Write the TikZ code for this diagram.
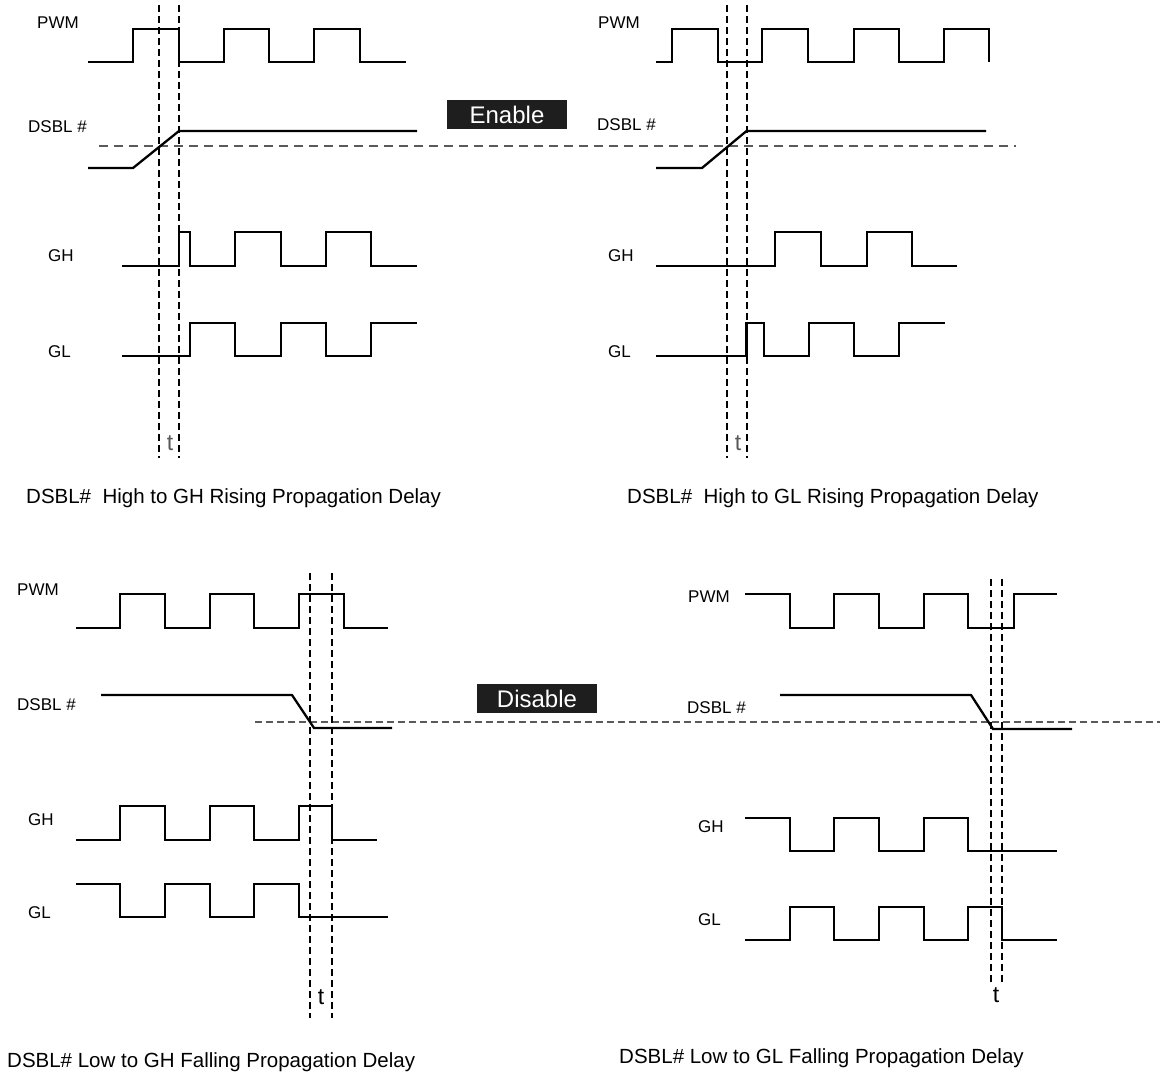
\documentclass[tikz,border=0pt]{standalone}
\usepackage{fontspec}
\setmainfont{Liberation Sans}
\definecolor{boxfill}{HTML}{1E1E1E}
\definecolor{lvlgray}{HTML}{5A5A5A}
\begin{document}
\begin{tikzpicture}[x=1pt,y=-1pt]
\tikzstyle{wave}=[line width=2.3pt]
\tikzstyle{tline}=[line width=2pt, dash pattern=on 7pt off 4pt]
\tikzstyle{thresh}=[line width=2.2pt, draw=lvlgray, dash pattern=on 9pt off 6pt]
\tikzstyle{sig}=[anchor=west, inner sep=0, font=\fontsize{17}{20}\selectfont]
\tikzstyle{title}=[anchor=base west, inner sep=0, font=\fontsize{20.5}{24}\selectfont]
\tikzstyle{tlabel}=[anchor=base, inner sep=0, font=\fontsize{23}{26}\selectfont]
\tikzstyle{statebox}=[fill=boxfill, text=white, minimum width=120pt, minimum height=29pt, inner sep=0, font=\fontsize{24}{28}\selectfont]
\useasboundingbox (0,0) rectangle (1160,1079);

%% threshold levels
\draw [thresh] (99,146)--(1016,146);
\draw [thresh, line width=1.8pt, dash pattern=on 7.3pt off 3.7pt] (254.5,722)--(1160,722);
\node [statebox] (enable) at (507,114.5) {Enable};
\node [statebox] (disable) at (537,698.5) {Disable};

%% delay markers
\foreach \x/\ya/\yb in {159/5/458, 179/5/458, 727/5/458, 746.5/5/458,
                        310/573/1018, 332/573/1018, 991/579/983, 1002/579/983} {
\draw [tline] (\x,\ya)--(\x,\yb);
}

%% top left: high to GH
\node [sig] (pwm1) at (37,23) {PWM};
\node [sig] (dsbl1) at (28,127) {DSBL \#};
\node [sig] (gh1) at (48,256) {GH};
\node [sig] (gl1) at (48,352) {GL};
\draw [wave] (88,62) -| (133,29) -| (179,62) -| (224,29) -| (269,62) -| (314,29) -| (360,62) -- (406,62);
\draw [wave] (88,168) -- (133,168) -- (179,131) -- (417,131);
\draw [wave] (122,266) -| (179,232) -| (190,266) -| (235,232) -| (281,266) -| (326,232) -| (371,266) -- (417,266);
\draw [wave] (122,356) -| (190,323) -| (235,356) -| (281,323) -| (326,356) -| (371,323) -- (417,323);
\node [tlabel, text=lvlgray] (t1) at (170,450) {t};
\node [title] (cap1) at (26,503) {DSBL\#\ \ High to GH Rising Propagation Delay};

%% top right: high to GL
\node [sig] (pwm2) at (598,23) {PWM};
\node [sig] (dsbl2) at (597,125) {DSBL \#};
\node [sig] (gh2) at (608,256) {GH};
\node [sig] (gl2) at (608,352) {GL};
\draw [wave] (656,62) -| (672,29) -| (718,62) -| (762,29) -| (808,62) -| (854,29) -| (899,62) -| (944,29) -| (989,62);
\draw [wave] (656,168) -- (702,168) -- (746.5,131) -- (986,131);
\draw [wave] (656,266) -| (775,232) -| (821,266) -| (867,232) -| (912,266) -- (957,266);
\draw [wave] (656,356) -| (746.5,323) -| (764,356) -| (809,323) -| (854,356) -| (899,323) -- (945,323);
\node [tlabel, text=lvlgray] (t2) at (738,450) {t};
\node [title] (cap2) at (627,503) {DSBL\#\ \ High to GL Rising Propagation Delay};

%% bottom left: low to GH
\node [sig] (pwm3) at (17,590) {PWM};
\node [sig] (dsbl3) at (17,705) {DSBL \#};
\node [sig] (gh3) at (28,820) {GH};
\node [sig] (gl3) at (28,913) {GL};
\draw [wave] (76,628) -| (120,594) -| (165,628) -| (210,594) -| (254,628) -| (299,594) -| (344,628) -- (388,628);
\draw [wave] (101,695) -- (292,695) -- (314,728) -- (392,728);
\draw [wave] (76,840) -| (120,806) -| (165,840) -| (210,806) -| (254,840) -| (299,806) -| (332,840) -- (377,840);
\draw [wave] (76,884) -| (120,917) -| (165,884) -| (210,917) -| (254,884) -| (299,917) -- (388,917);
\node [tlabel] (t3) at (321,1004) {t};
\node [title] (cap3) at (7,1067) {DSBL\# Low to GH Falling Propagation Delay};

%% bottom right: low to GL
\node [sig] (pwm4) at (688,597) {PWM};
\node [sig] (dsbl4) at (687,708) {DSBL \#};
\node [sig] (gh4) at (698,827) {GH};
\node [sig] (gl4) at (698,920) {GL};
\draw [wave] (745,594) -| (790,628) -| (834,594) -| (879,628) -| (924,594) -| (968,628) -| (1014,594) -- (1057,594);
\draw [wave] (780,695) -- (971,695) -- (993,729) -- (1072,729);
\draw [wave] (745,818) -| (790,851) -| (834,818) -| (879,851) -| (924,818) -| (968,851) -- (1057,851);
\draw [wave] (745,940) -| (790,907) -| (834,940) -| (879,907) -| (924,940) -| (968,907) -| (1002,940) -- (1057,940);
\node [tlabel] (t4) at (996,1002) {t};
\node [title] (cap4) at (619,1063) {DSBL\# Low to GL Falling Propagation Delay};

\end{tikzpicture}
\end{document}
